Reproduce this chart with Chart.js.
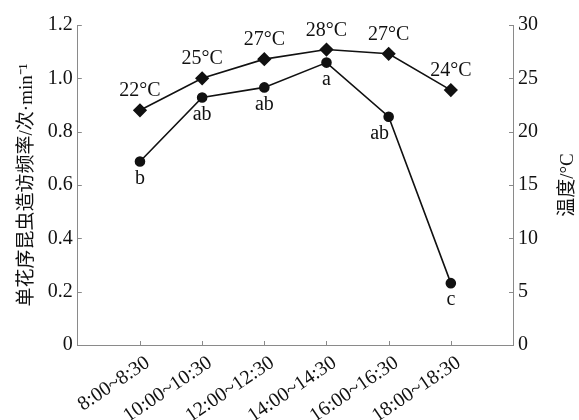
<!DOCTYPE html>
<html>
<head>
<meta charset="utf-8">
<script src="https://cdn.jsdelivr.net/npm/chart.js@4/dist/chart.umd.min.js"></script>
<style>
  html, body { margin: 0; padding: 0; background: #fff; }
  #wrap { width: 579px; height: 420px; }
</style>
</head>
<body>
<div id="wrap"><canvas id="chart"></canvas></div>
<script>
// time slots (blank slot at each end keeps the axis margins)
const timeSlots = ['8:00~8:30', '10:00~10:30', '12:00~12:30', '14:00~14:30', '16:00~16:30', '18:00~18:30'];
// visiting frequency per inflorescence (times/min)
const visitRate = [0.688, 0.928, 0.966, 1.059, 0.856, 0.232];
const visitLetters = ['b', 'ab', 'ab', 'a', 'ab', 'c'];
// temperature (°C)
const temperature = [22.0, 25.0, 26.8, 27.7, 27.3, 23.9];
const tempLabels = ['22°C', '25°C', '27°C', '28°C', '27°C', '24°C'];

const serif = '"Liberation Serif", "DejaVu Serif", serif';
const cjk = '"Liberation Serif", "Noto Sans CJK SC", serif';
const axisGray = '#8a8a8a';

const labels = ['', ...timeSlots, ''];
const pad = arr => [null, ...arr, null];

// inward tick marks, the labels on the points and the right axis title
const decorations = {
    id: 'decorations',
    afterDraw(chart) {
        const ctx = chart.ctx;
        const x = chart.scales.x, y = chart.scales.y, y2 = chart.scales.y2;
        ctx.save();
        ctx.strokeStyle = axisGray;
        ctx.lineWidth = 1;
        ctx.beginPath();
        for (let i = 1; i < labels.length - 1; i++) {
            const px = Math.round(x.getPixelForTick(i)) + 0.5;
            ctx.moveTo(px, x.top);
            ctx.lineTo(px, x.top - 4);
        }
        y.ticks.forEach((t, i) => {
            const py = Math.round(y.getPixelForTick(i)) + 0.5;
            ctx.moveTo(y.right, py);
            ctx.lineTo(y.right + 4, py);
        });
        y2.ticks.forEach((t, i) => {
            const py = Math.round(y2.getPixelForTick(i)) + 0.5;
            ctx.moveTo(y2.left, py);
            ctx.lineTo(y2.left - 4, py);
        });
        ctx.stroke();

        ctx.fillStyle = '#111';
        ctx.font = '20px ' + serif;
        ctx.textAlign = 'center';

        const visitMeta = chart.getDatasetMeta(0);
        ctx.textBaseline = 'top';
        visitLetters.forEach((s, i) => {
            const p = visitMeta.data[i + 1];
            const dx = i === 4 ? -9 : 0;
            ctx.fillText(s, p.x + dx, p.y + 7);
        });

        const tempMeta = chart.getDatasetMeta(1);
        ctx.textBaseline = 'alphabetic';
        tempLabels.forEach((s, i) => {
            const p = tempMeta.data[i + 1];
            ctx.fillText(s, p.x, p.y - 14);
        });

        ctx.font = '19px ' + cjk;
        ctx.translate(568, (y2.top + y2.bottom) / 2);
        ctx.rotate(-Math.PI / 2);
        ctx.textBaseline = 'middle';
        ctx.fillText('温度/°C', 0, 0);
        ctx.restore();
    }
};

new Chart(document.getElementById('chart'), {
    type: 'line',
    data: {
        labels: labels,
        datasets: [
            {
                label: 'visit',
                data: pad(visitRate),
                yAxisID: 'y',
                borderColor: '#111',
                backgroundColor: '#111',
                borderWidth: 1.6,
                pointStyle: 'circle',
                pointRadius: 4.5,
                tension: 0
            },
            {
                label: 'temp',
                data: pad(temperature),
                yAxisID: 'y2',
                borderColor: '#111',
                backgroundColor: '#111',
                borderWidth: 1.6,
                pointStyle: 'rectRot',
                pointRadius: 6,
                tension: 0
            }
        ]
    },
    options: {
        responsive: true,
        maintainAspectRatio: false,
        animation: false,
        spanGaps: false,
        layout: { padding: { top: 25, right: 36, left: 12, bottom: 0 } },
        plugins: {
            legend: { display: false },
            tooltip: { enabled: false }
        },
        scales: {
            x: {
                offset: false,
                grid: { display: false, drawTicks: false },
                border: { color: axisGray, width: 1 },
                afterFit: scale => { scale.height = 75; },
                ticks: {
                    color: '#111',
                    font: { family: serif, size: 20 },
                    minRotation: 34,
                    maxRotation: 34,
                    autoSkip: false,
                    labelOffset: 8,
                    padding: 6
                }
            },
            y: {
                position: 'left',
                min: 0,
                max: 1.2,
                grid: { display: false, drawTicks: false },
                border: { color: axisGray, width: 1 },
                ticks: {
                    stepSize: 0.2,
                    color: '#111',
                    font: { family: serif, size: 20 },
                    padding: 5,
                    callback: v => v === 0 ? '0' : v.toFixed(1)
                },
                title: {
                    display: true,
                    text: '单花序昆虫造访频率/次·min⁻¹',
                    color: '#111',
                    font: { family: cjk, size: 19 },
                    padding: { bottom: 4 }
                }
            },
            y2: {
                position: 'right',
                min: 0,
                max: 30,
                grid: { display: false, drawTicks: false },
                border: { color: axisGray, width: 1 },
                ticks: {
                    stepSize: 5,
                    color: '#111',
                    font: { family: serif, size: 20 },
                    padding: 5
                }
            }
        }
    },
    plugins: [decorations]
});
</script>
</body>
</html>
